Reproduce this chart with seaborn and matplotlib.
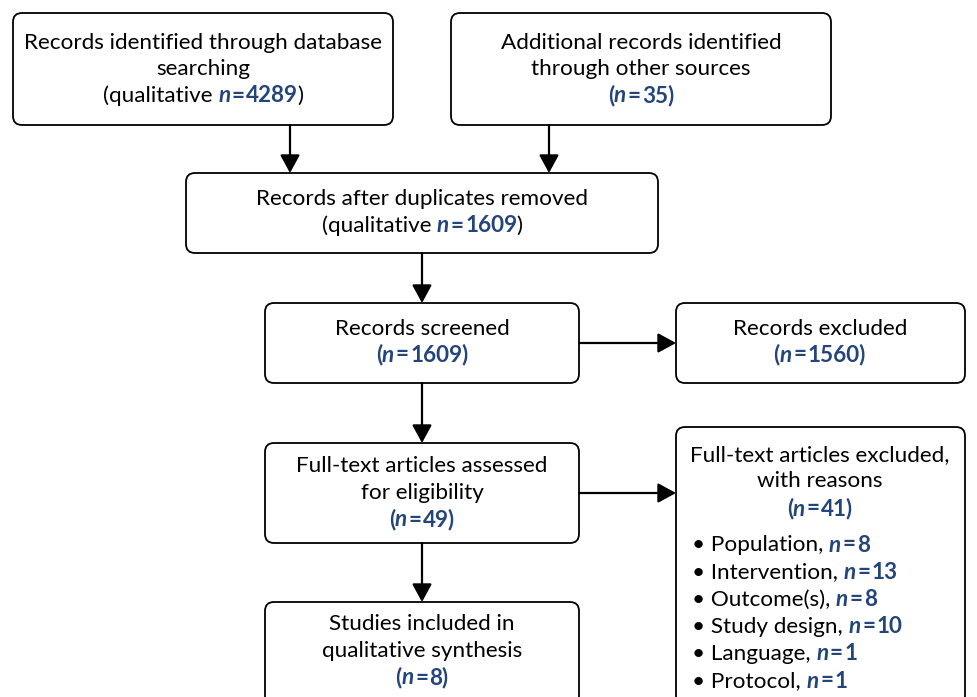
import matplotlib.pyplot as plt
import seaborn as sns
from matplotlib.patches import FancyBboxPatch

# PRISMA counts
n_database = 4289
n_other = 35
n_deduplicated = 1609
n_screened = 1609
n_excluded = 1560
n_assessed = 49
n_fulltext_excluded = 41
exclusion_reasons = ["Population", "Intervention", "Outcome(s)", "Study design", "Language", "Protocol"]
exclusion_counts = [8, 13, 8, 10, 1, 1]
n_included = 8

sns.set_theme(style="white")
plt.rcParams["font.family"] = ["Lato", "DejaVu Sans"]

BLUE = "#24457a"
FS = 16.2

fig = plt.figure(figsize=(9.78, 6.97), dpi=100)
ax = fig.add_axes([0, 0, 1, 1])
ax.set_xlim(0, 978)
ax.set_ylim(697, 0)
ax.axis("off")
renderer = fig.canvas.get_renderer()

STYLES = {
    "r": dict(color="black", weight="normal", style="normal"),
    "n": dict(color=BLUE, weight="bold", style="italic"),
    "b": dict(color=BLUE, weight="bold", style="normal"),
}


def seg_width(text, kind):
    if kind == "gap":
        return float(text)
    t = ax.text(0, 0, "X" + text + "X", fontsize=FS, **STYLES[kind])
    w1 = t.get_window_extent(renderer).width
    t.set_text("XX")
    w2 = t.get_window_extent(renderer).width
    t.remove()
    return w1 - w2


def rich_line(x, y, segs, ha="center"):
    widths = [seg_width(s, k) for s, k in segs]
    total = sum(widths)
    x0 = x - total / 2 if ha == "center" else x
    for (s, k), w in zip(segs, widths):
        if k != "gap":
            ax.text(x0, y, s, fontsize=FS, ha="left", va="center", **STYLES[k])
        x0 += w


def n_segs(value, paren=True):
    if paren:
        return [("(", "b"), ("n", "n"), (1.5, "gap"), ("=", "b"), (1.5, "gap"), (f"{value})", "b")]
    return [("n", "n"), (1.5, "gap"), ("=", "b"), (1.5, "gap"), (str(value), "b")]


def box(x0, y0, x1, y1):
    ax.add_patch(FancyBboxPatch((x0, y0), x1 - x0, y1 - y0,
                                boxstyle="round,pad=0,rounding_size=9",
                                fc="white", ec="black", lw=1.3, zorder=1))


def arrow(x0, y0, x1, y1):
    ax.annotate("", xy=(x1, y1), xytext=(x0, y0),
                arrowprops=dict(arrowstyle="-|>,head_length=0.55,head_width=0.3",
                                color="black", lw=1.6, mutation_scale=20,
                                shrinkA=0, shrinkB=0))


# boxes
box(13, 13, 393, 125)
box(451, 13, 831, 125)
box(186, 173, 658, 253)
box(265, 303, 579, 383)
box(676, 303, 965, 383)
box(265, 443, 579, 543)
box(676, 427, 965, 705)
box(265, 602, 579, 705)

# arrows
arrow(290, 125, 290, 173)
arrow(549, 125, 549, 173)
arrow(422, 253, 422, 303)
arrow(422, 383, 422, 443)
arrow(422, 543, 422, 602)
arrow(579, 343, 676, 343)
arrow(579, 493, 676, 493)

# box 1
rich_line(203, 43, [("Records identified through database", "r")])
rich_line(203, 69, [("searching", "r")])
rich_line(203, 96, [("(qualitative ", "r")] + n_segs(n_database, False) + [(-1.0, "gap"), (")", "r")])

# box 2
rich_line(641, 43, [("Additional records identified", "r")])
rich_line(641, 69, [("through other sources", "r")])
rich_line(641, 96, n_segs(n_other))

# box 3
rich_line(422, 199, [("Records after duplicates removed", "r")])
rich_line(422, 226, [("(qualitative ", "r")] + n_segs(n_deduplicated, False) + [(-1.0, "gap"), (")", "r")])

# box 4 / 5
rich_line(422, 329, [("Records screened", "r")])
rich_line(422, 355, n_segs(n_screened))
rich_line(820, 329, [("Records excluded", "r")])
rich_line(820, 355, n_segs(n_excluded))

# box 6
rich_line(422, 466, [("Full-text articles assessed", "r")])
rich_line(422, 493, [("for eligibility", "r")])
rich_line(422, 520, n_segs(n_assessed))

# box 7
rich_line(820, 455, [("Full-text articles excluded,", "r")])
rich_line(820, 481, [("with reasons", "r")])
rich_line(820, 509, n_segs(n_fulltext_excluded))
for i, (reason, cnt) in enumerate(zip(exclusion_reasons, exclusion_counts)):
    rich_line(692, 545 + i * 27.2, [("\u2022 " + reason + ", ", "r")] + n_segs(cnt, False), ha="left")

# box 8
rich_line(422, 624, [("Studies included in", "r")])
rich_line(422, 651, [("qualitative synthesis", "r")])
rich_line(422, 678, n_segs(n_included))

fig.savefig("out.png", dpi=100)
